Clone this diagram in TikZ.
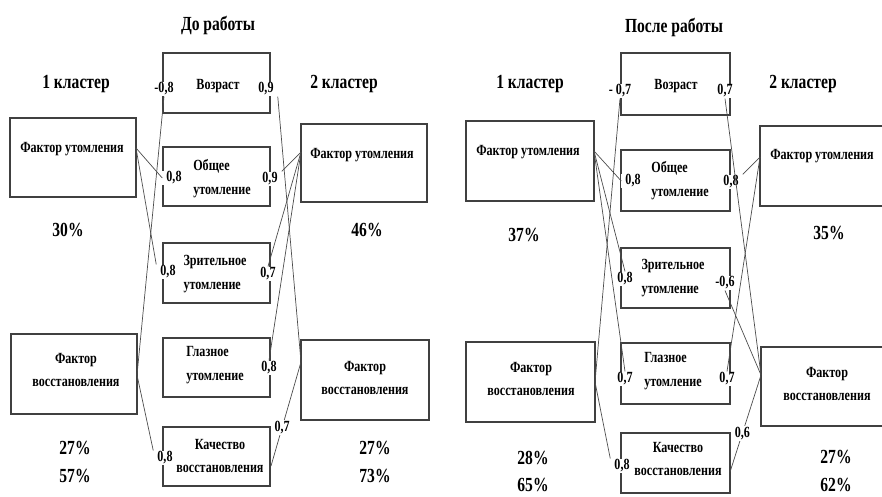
\documentclass[tikz,border=0pt]{standalone}
\usepackage{fontspec}
\setmainfont[FakeStretch=0.78]{Liberation Serif}
\begin{document}
\begin{tikzpicture}[x=1pt,y=-1pt,
  box/.style={draw=black!75, line width=1.4pt, anchor=north west, inner sep=0pt, outer sep=0pt},
  conn/.style={draw=black!70, line width=0.7pt},
  ttl/.style={font=\fontsize{20}{24}\selectfont\bfseries, inner sep=0pt},
  pct/.style={font=\fontsize{20}{24}\selectfont\bfseries, inner sep=0pt},
  txt/.style={font=\fontsize{15.5}{24}\selectfont\bfseries, inner sep=0pt, align=left},
  txtc/.style={font=\fontsize{15.5}{23}\selectfont\bfseries, inner sep=0pt, align=center},
  lbl/.style={font=\fontsize{15.5}{18}\selectfont\bfseries, fill=white, inner xsep=4pt, inner ysep=1pt}
]
\useasboundingbox (0,0) rectangle (882,496);
\clip (0,0) rectangle (882,496);

% ================= LEFT PANEL: До работы =================
\node[ttl] (t1) at (218,25) {До работы};
\node[ttl] (c11) at (76,84) {1 кластер};
\node[ttl] (c12) at (344,84) {2 кластер};

\node[box, minimum width=126, minimum height=79] (L1) at (10,118) {};
\node[box, minimum width=126, minimum height=80] (L2) at (11,334) {};
\node[box, minimum width=126, minimum height=78] (R1) at (301,124) {};
\node[box, minimum width=128, minimum height=80] (R2) at (301,340) {};

\node[box, minimum width=107, minimum height=60] (M1) at (163,53) {};
\node[box, minimum width=107, minimum height=59] (M2) at (163,147) {};
\node[box, minimum width=107, minimum height=60] (M3) at (163,243) {};
\node[box, minimum width=107, minimum height=59] (M4) at (163,338) {};
\node[box, minimum width=107, minimum height=59] (M5) at (163,427) {};

\node[txt] (tL1) at (72,149) {Фактор утомления};
\node[txtc] (tL2) at (76,370) {Фактор\\восстановления};
\node[txt] (tR1) at (362,155) {Фактор утомления};
\node[txtc] (tR2) at (365,378) {Фактор\\восстановления};
\node[txt] (tM1) at (218,86) {Возраст};
\node[txt] (tM2) at (222,179) {Общее\\утомление};
\node[txt] (tM3) at (215,274) {Зрительное\\утомление};
\node[txt] (tM4) at (215,365) {Глазное\\утомление};
\node[txtc] (tM5) at (220,456) {Качество\\восстановления};

\node[pct] (p1) at (68,230) {30\%};
\node[pct] (p2) at (367,230) {46\%};
\node[pct] (p3) at (75,448) {27\%};
\node[pct] (p4) at (75,476) {57\%};
\node[pct] (p5) at (375,448) {27\%};
\node[pct] (p6) at (375,476) {73\%};

\node[lbl] (lM1l) at (164,89) {-0,8};
\node[lbl] (lM1r) at (266,89) {0,9};
\node[lbl] (lM2l) at (174,178) {0,8};
\node[lbl] (lM2r) at (270,179) {0,9};
\node[lbl] (lM3l) at (168,272) {0,8};
\node[lbl] (lM3r) at (268,274) {0,7};
\node[lbl] (lM4r) at (269,368) {0,8};
\node[lbl] (lM5l) at (165,458) {0,8};

\coordinate (L1o) at (136,148);
\coordinate (L2o) at (137,375);
\coordinate (R1o) at (301,152);
\coordinate (R2o) at (301,362);
\coordinate (M5e) at (271,466);

\draw[conn] (L1o) -- (lM2l.west);
\draw[conn] (L1o) -- (lM3l.north west);
\draw[conn] (L2o) -- (lM1l.south);
\draw[conn] (L2o) -- (lM5l.north west);
\draw[conn] (R1o) -- (lM2r.north east);
\draw[conn] (R1o) -- (lM3r.north);
\draw[conn] (R1o) -- (lM4r.north);
\draw[conn] (R2o) -- (lM1r.south east);
\draw[conn] (R2o) -- node[lbl, pos=0.63] (lM5r) {0,7} (M5e);

% ================= RIGHT PANEL: После работы =================
\node[ttl] (t2) at (674,27) {После работы};
\node[ttl] (c21) at (530,84) {1 кластер};
\node[ttl] (c22) at (803,84) {2 кластер};

\node[box, minimum width=128, minimum height=80] (BL1) at (466,121) {};
\node[box, minimum width=129, minimum height=80] (BL2) at (466,342) {};
\node[box, minimum width=140, minimum height=80] (BR1) at (760,126) {};
\node[box, minimum width=140, minimum height=79] (BR2) at (761,347) {};

\node[box, minimum width=109, minimum height=62] (N1) at (621,53) {};
\node[box, minimum width=109, minimum height=61] (N2) at (621,150) {};
\node[box, minimum width=109, minimum height=60] (N3) at (621,248) {};
\node[box, minimum width=109, minimum height=61] (N4) at (621,343) {};
\node[box, minimum width=109, minimum height=60] (N5) at (621,433) {};

\node[txt] (uL1) at (528,152) {Фактор утомления};
\node[txtc] (uL2) at (531,379) {Фактор\\восстановления};
\node[txt] (uR1) at (822,156) {Фактор утомления};
\node[txtc] (uR2) at (827,384) {Фактор\\восстановления};
\node[txt] (uN1) at (676,86) {Возраст};
\node[txt] (uN2) at (680,181) {Общее\\утомление};
\node[txt] (uN3) at (673,278) {Зрительное\\утомление};
\node[txt] (uN4) at (673,371) {Глазное\\утомление};
\node[txtc] (uN5) at (678,459) {Качество\\восстановления};

\node[pct] (q1) at (524,235) {37\%};
\node[pct] (q2) at (829,233) {35\%};
\node[pct] (q3) at (533,458) {28\%};
\node[pct] (q4) at (533,485) {65\%};
\node[pct] (q5) at (836,457) {27\%};
\node[pct] (q6) at (836,485) {62\%};

\node[lbl] (lN1l) at (620,91) {- 0,7};
\node[lbl] (lN1r) at (725,91) {0,7};
\node[lbl] (lN2l) at (633,181) {0,8};
\node[lbl] (lN2r) at (731,182) {0,8};
\node[lbl] (lN3l) at (625,279) {0,8};
\node[lbl] (lN3r) at (725,283) {-0,6};
\node[lbl] (lN4l) at (625,379) {0,7};
\node[lbl] (lN4r) at (727,379) {0,7};
\node[lbl] (lN5l) at (622,466) {0,8};

\coordinate (BL1o) at (594,151);
\coordinate (BL2o) at (595,382);
\coordinate (BR1o) at (760,157);
\coordinate (BR2o) at (761,375);
\coordinate (N5e) at (730,472);

\draw[conn] (BL1o) -- (lN2l.west);
\draw[conn] (BL1o) -- (lN3l.north);
\draw[conn] (BL1o) -- (lN4l.north);
\draw[conn] (BL2o) -- (lN1l.south);
\draw[conn] (BL2o) -- (lN5l.north west);
\draw[conn] (BR1o) -- (lN2r.north east);
\draw[conn] (BR1o) -- (lN4r.north);
\draw[conn] (BR2o) -- (lN1r.south);
\draw[conn] (BR2o) -- (lN3r.south);
\draw[conn] (BR2o) -- node[lbl, pos=0.6] (lN5r) {0,6} (N5e);
\end{tikzpicture}
\end{document}
